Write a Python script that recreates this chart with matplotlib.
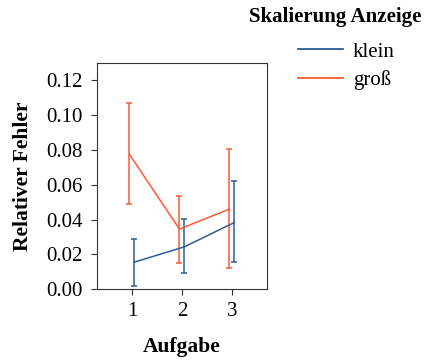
import matplotlib.pyplot as plt
import numpy as np

plt.rcParams['font.family'] = ['Liberation Serif', 'DejaVu Serif']

aufgaben = ['1', '2', '3']
klein = [0.0155, 0.0243, 0.0383]
klein_lo = [0.0019, 0.0094, 0.0153]
klein_hi = [0.0287, 0.0402, 0.0620]
gross = [0.0775, 0.0345, 0.0460]
gross_lo = [0.0487, 0.0148, 0.0119]
gross_hi = [0.1070, 0.0536, 0.0804]

fig = plt.figure(figsize=(4.25, 3.6), dpi=100)
ax = fig.add_axes([0.228, 0.197, 0.40, 0.628])

x = np.arange(len(aufgaben))
series = [
    ('klein', klein, klein_lo, klein_hi, '#2b5d96', 0.05),
    ('groß', gross, gross_lo, gross_hi, '#fc5a35', -0.05),
]
for name, mean, lo, hi, color, shift in series:
    mean = np.array(mean)
    err = [mean - np.array(lo), np.array(hi) - mean]
    ax.errorbar(x + shift, mean, yerr=err, color=color, lw=1.1,
                elinewidth=1.1, capsize=2.5, capthick=1.1, label=name)

ax.set_xlim(-0.7, 2.7)
ax.set_ylim(0, 0.13)
ax.set_xticks(x)
ax.set_xticklabels(aufgaben)
ax.set_yticks(np.arange(0, 0.121, 0.02))
ax.set_yticklabels([f'{v:.2f}' for v in np.arange(0, 0.121, 0.02)])
ax.tick_params(labelsize=15, length=4.5, color='#333333')
ax.tick_params(axis='x', pad=5)
ax.tick_params(axis='y', pad=6)
for s in ax.spines.values():
    s.set_color('#333333')
    s.set_linewidth(0.8)

ax.set_xlabel('Aufgabe', fontsize=15.5, fontweight='bold', labelpad=11)
ax.set_ylabel('Relativer Fehler', fontsize=15.5, fontweight='bold', labelpad=9)

# legend title drawn separately so the gap to the entries can be set freely
fig.text(0.586, 0.952, 'Skalierung Anzeige', fontsize=15, fontweight='bold',
         va='center', ha='left')
handles, labels = ax.get_legend_handles_labels()
handles = [plt.Line2D([], [], color=h[0].get_color(), lw=1.3) for h in handles]
leg = fig.legend(handles, labels, loc='upper left',
                 bbox_to_anchor=(0.70, 0.883), frameon=False, fontsize=15,
                 borderpad=0, borderaxespad=0, handlelength=2.2,
                 handletextpad=0.45, labelspacing=0.4)

fig.savefig('out.png', dpi=100)
